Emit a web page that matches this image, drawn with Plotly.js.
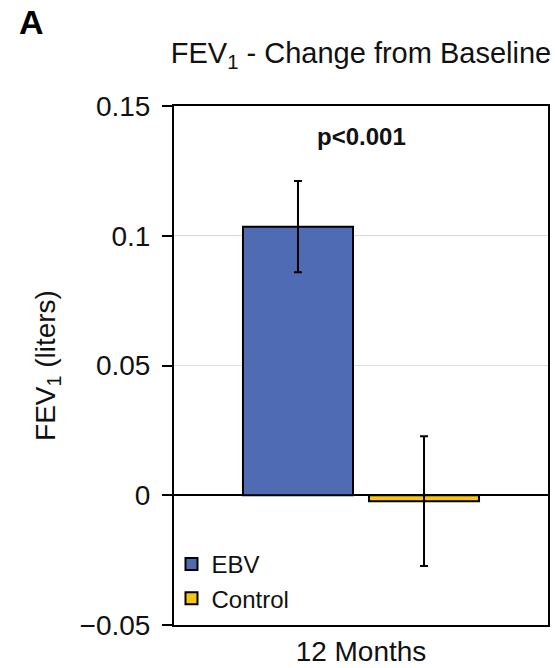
<!DOCTYPE html>
<html><head><meta charset="utf-8">
<script src="https://cdn.plot.ly/plotly-3.0.1.min.js"></script>
<style>html,body{margin:0;padding:0;background:#fff}#c{width:555px;height:668px}</style>
</head><body><div id="c"></div>
<script>
const categories = ["12 Months"];
const seriesNames = ["EBV", "Control"];
const ebvValues = [0.1035];
const ebvErrors = [0.0176];
const controlValues = [-0.0023];
const controlErrors = [0.025];
const yTickVals = [-0.05, 0, 0.05, 0.1, 0.15];
const yTickText = ["\u22120.05", "0", "0.05", "0.1", "0.15"];
const colors = ["#4f6bb4", "#f7c515"];
const FONT = "Liberation Sans, Arial, Helvetica, sans-serif";

const traces = [
  {type:"bar", name:seriesNames[0], x:categories, y:ebvValues, legendgroup:"a",
   marker:{color:colors[0], line:{color:"#000", width:2}},
   error_y:{type:"data", array:ebvErrors, visible:true, color:"#000", thickness:2, width:4}},
  {type:"bar", name:seriesNames[1], x:categories, y:controlValues, legendgroup:"b",
   marker:{color:colors[1], line:{color:"#000", width:2}},
   error_y:{type:"data", array:controlErrors, visible:true, color:"#000", thickness:2, width:4}}
];

const layout = {
  width:555, height:668,
  margin:{l:174, r:7, t:106, b:43},
  paper_bgcolor:"#fff", plot_bgcolor:"#fff",
  font:{family:FONT, color:"#111", size:28},
  barmode:"group", bargap:0.326, bargroupgap:0.127,
  showlegend:true,
  legend:{x:-0.0067, y:0.008, xanchor:"left", yanchor:"bottom", bgcolor:"rgba(0,0,0,0)",
          font:{size:24, family:FONT, color:"#111"}, tracegroupgap:11, traceorder:"normal"},
  title:{text:"FEV<sub>1</sub> - Change from Baseline", x:0.5, xref:"paper", xanchor:"center",
         y:62, yref:"container", yanchor:"middle", font:{size:29, family:FONT, color:"#111"}},
  xaxis:{showline:true, linecolor:"#000", linewidth:2, mirror:true, ticks:"", showgrid:false,
         tickfont:{size:28}, fixedrange:true},
  yaxis:{range:[-0.05,0.15], tickvals:yTickVals, ticktext:yTickText, ticks:"outside", ticklen:10,
         tickwidth:2, tickcolor:"#000", showline:true, linecolor:"#000", linewidth:2, mirror:true,
         showgrid:true, gridcolor:"#dcdcdc", gridwidth:1, zeroline:true, zerolinecolor:"#000",
         zerolinewidth:2, tickfont:{size:28}, ticklabelstandoff:6,
         title:{text:"FEV<sub>1</sub> (liters)", font:{size:28}, standoff:16}},
  annotations:[
    {text:"<b>A</b>", xref:"paper", yref:"paper", x:(31-174)/374, y:1+(106-22)/519,
     xanchor:"center", yanchor:"middle", showarrow:false, font:{size:34, family:FONT, color:"#000"}},
    {text:"<b>p<0.001</b>", xref:"paper", yref:"paper", x:0.5, y:1-(136-106)/519, xanchor:"center",
     yanchor:"middle", showarrow:false, font:{size:24, family:FONT, color:"#111"}}
  ]
};
Plotly.newPlot("c", traces, layout, {displayModeBar:false, staticPlot:true});
</script></body></html>
